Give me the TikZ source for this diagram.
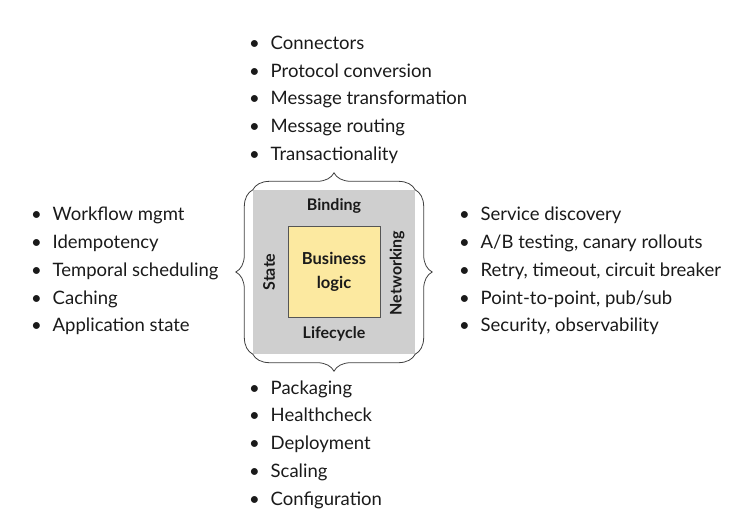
\documentclass[tikz,border=0pt]{standalone}
\usepackage{fontspec}
\setmainfont{Lato}
\usetikzlibrary{positioning,decorations.pathreplacing}
\definecolor{boxgray}{HTML}{CFCFCF}
\definecolor{logicyellow}{HTML}{FCE9A0}
\definecolor{edgegray}{HTML}{555555}
\definecolor{inkgray}{HTML}{1A1A1A}

\begin{document}
\begin{tikzpicture}[x=1pt, y=-1pt,
	layer/.style={rectangle, draw=none, fill=boxgray,
		minimum width=162pt, minimum height=164pt, inner sep=0pt},
	logic/.style={rectangle, draw=edgegray, line width=1pt, fill=logicyellow,
		minimum width=92pt, minimum height=91pt, align=center, text=inkgray,
		font=\bfseries\fontsize{16.5}{24}\selectfont},
	side/.style={inner sep=0pt, text=inkgray, font=\bfseries\fontsize{16}{18}\selectfont},
	item/.style={anchor=base west, inner sep=0pt, text=inkgray,
		font=\fontsize{18.5}{22}\selectfont,
		execute at begin node={\makebox[21.5pt][l]{\textbullet}}},
	curly/.style={decorate, decoration={brace, amplitude=17pt},
		draw=black!75, line width=0.8pt}
	]
	\useasboundingbox (0,0) rectangle (731,525);
	% core layers
	\node (core) [layer] at (334,272) {};
	\node (logic) [logic] at (334,271.5) {Business\\logic};
	\node (bind) [side] at (334,206) {Binding};
	\node (life) [side] at (334,334) {Lifecycle};
	\node (state) [side, rotate=90] at (269,272) {State};
	\node (net) [side, rotate=90] at (397,273) {Networking};
	% braces
	\draw [curly] (core.north west) -- (core.north east);
	\draw [curly] (core.north east) -- (core.south east);
	\draw [curly] (core.south east) -- (core.south west);
	\draw [curly] (core.south west) -- (core.north west);
	% binding
	\node (b1) [item] at (249,49.3) {Connectors};
	\node (b2) [item] at (249,77.1) {Protocol conversion};
	\node (b3) [item] at (249,104.9) {Message transformation};
	\node (b4) [item] at (249,132.7) {Message routing};
	\node (b5) [item] at (249,160.5) {Transactionality};
	% state
	\node (s1) [item] at (31,220.7) {Workflow mgmt};
	\node (s2) [item] at (31,248.5) {Idempotency};
	\node (s3) [item] at (31,276.3) {Temporal scheduling};
	\node (s4) [item] at (31,304.1) {Caching};
	\node (s5) [item] at (31,331.9) {Application state};
	% networking
	\node (n1) [item] at (459,220.7) {Service discovery};
	\node (n2) [item] at (459,248.5) {A/B testing, canary rollouts};
	\node (n3) [item] at (459,276.3) {Retry, timeout, circuit breaker};
	\node (n4) [item] at (459,304.1) {Point-to-point, pub/sub};
	\node (n5) [item] at (459,331.9) {Security, observability};
	% lifecycle
	\node (l1) [item] at (249,394) {Packaging};
	\node (l2) [item] at (249,421.8) {Healthcheck};
	\node (l3) [item] at (249,449.6) {Deployment};
	\node (l4) [item] at (249,477.4) {Scaling};
	\node (l5) [item] at (249,505.2) {Configuration};
\end{tikzpicture}
\end{document}
